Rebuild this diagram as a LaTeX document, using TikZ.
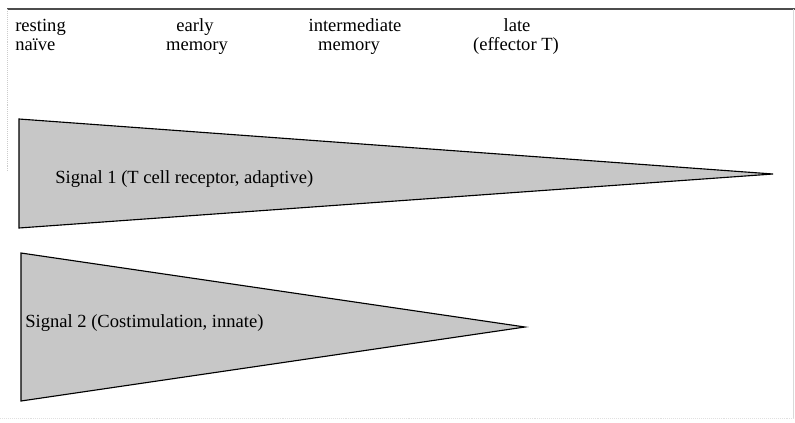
\documentclass[tikz,border=0pt]{standalone}
\usepackage{fontspec}
\setmainfont{Liberation Serif}
\begin{document}
\begin{tikzpicture}[x=0.025cm, y=-0.025cm, every node/.style={inner sep=0pt, font=\fontsize{13.2}{15}\selectfont}]
        \useasboundingbox (0,0) rectangle (795,422);
        % frame
        \draw[color=black!70, line width=0.9pt] (7,9) -- (795,9);
        \draw[color=black!20, densely dotted] (7,9) -- (7,172);
        \draw[color=black!15] (793,9) -- (793,418);
        \draw[color=black!12, densely dotted] (0,418) -- (795,418);

        % stages
        \node[anchor=base west] (rest) at (15,31) {resting};
        \node[anchor=base west] (naive) at (15,50) {naïve};
        \node[anchor=base] (early) at (195,31) {early};
        \node[anchor=base] (earlymem) at (197,50) {memory};
        \node[anchor=base] (inter) at (355,31) {intermediate};
        \node[anchor=base] (intermem) at (349,50) {memory};
        \node[anchor=base] (late) at (517,31) {late};
        \node[anchor=base] (eff) at (516,50) {(effector T)};

        % signal wedges
        \draw[fill=black!22, line width=0.8pt, line join=miter] (19,119) -- (773,174) -- (19,228) -- cycle;
        \draw[fill=black!22, line width=0.8pt, line join=miter] (21,253) -- (525,327) -- (21,401) -- cycle;
        \node[anchor=west] (sig1) at (55,179) {Signal 1 (T cell receptor, adaptive)};
        \node[anchor=west] (sig2) at (25,323) {Signal 2 (Costimulation, innate)};
      \end{tikzpicture}
\end{document}
